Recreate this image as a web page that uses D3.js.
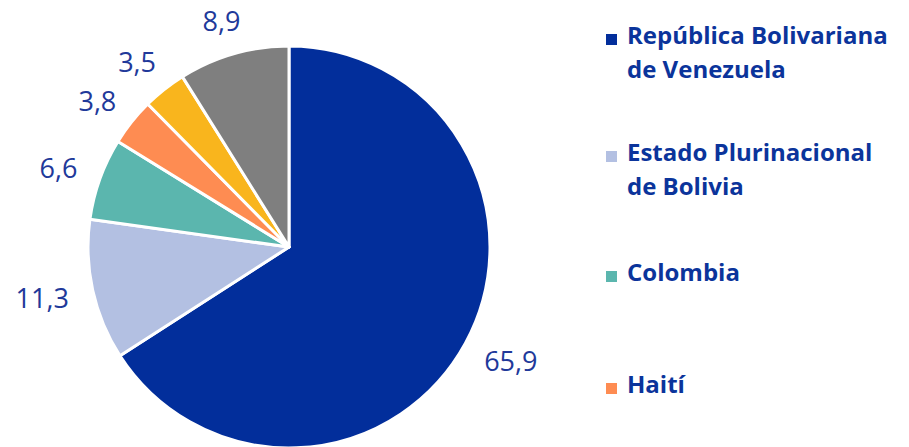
<!DOCTYPE html>
<html>
<head>
<meta charset="utf-8">
<script src="https://cdn.jsdelivr.net/npm/d3@7"></script>
<style>
  body { margin: 0; background: #fff; }
  svg { display: block; }
</style>
</head>
<body>
<svg id="chart"></svg>
<script>
let w = 909;
let h = 447;

// data
let countries = ["República Bolivariana de Venezuela", "Estado Plurinacional de Bolivia", "Colombia", "Haití", "Otro 1", "Otros"];
let values = [65.9, 11.3, 6.6, 3.8, 3.5, 8.9];
let colors = ["#022e9b", "#b3c0e2", "#5bb6ae", "#fe8c52", "#f9b51d", "#7f7f7f"];
// legend lines (only four entries are visible)
let legendLines = [["República Bolivariana", "de Venezuela"], ["Estado Plurinacional", "de Bolivia"], ["Colombia"], ["Haití"]];
let legendY = [44, 161, 281, 393];

let cx = 289, cy = 247, r = 201;
let labelR = 226;
let fmt = d => d.toFixed(1).replace(".", ",");

let chart = d3.select("#chart").attr("width", w).attr("height", h);

let dataset = values.map((v, i) => ({ name: countries[i], value: v, color: colors[i] }));

let pie = d3.pie().sort(null).value(d => d.value);
let arc = d3.arc().innerRadius(0).outerRadius(r);

let g = chart.append("g").attr("transform", `translate(${cx},${cy})`);

g.selectAll("path")
  .data(pie(dataset))
  .join("path")
  .attr("d", arc)
  .attr("fill", d => d.data.color)
  .attr("stroke", "#fff")
  .attr("stroke-width", 3)
  .attr("stroke-linejoin", "round");

// outside-end labels: push the box out along the slice's mid angle
g.selectAll("text.lbl")
  .data(pie(dataset))
  .join("text")
  .attr("class", "lbl")
  .attr("text-anchor", "middle")
  .attr("dominant-baseline", "central")
  .attr("font-family", "Open Sans, sans-serif")
  .attr("font-size", 27)
  .attr("fill", "#21399a")
  .text(d => fmt(d.data.value))
  .each(function(d) {
    let a = (d.startAngle + d.endAngle) / 2;
    let tw = this.getComputedTextLength() / 2;
    let th = 10;
    let s = Math.sin(a), c = Math.cos(a);
    d3.select(this)
      .attr("x", s * (labelR + tw))
      .attr("y", -c * (labelR + th));
  });

// legend
let legend = chart.append("g").attr("transform", "translate(606,0)");
let items = legend.selectAll("g")
  .data(legendLines)
  .join("g")
  .attr("transform", (d, i) => `translate(0,${legendY[i]})`);

items.append("rect")
  .attr("x", 0)
  .attr("y", -10)
  .attr("width", 11)
  .attr("height", 11)
  .attr("fill", (d, i) => colors[i]);

items.append("text")
  .attr("x", 21)
  .attr("font-family", "Open Sans, sans-serif")
  .attr("font-weight", "bold")
  .attr("font-size", 24)
  .attr("fill", "#0b349b")
  .selectAll("tspan")
  .data(d => d)
  .join("tspan")
  .attr("x", 21)
  .attr("dy", (d, i) => i === 0 ? 0 : 34)
  .text(d => d);
</script>
</body>
</html>
